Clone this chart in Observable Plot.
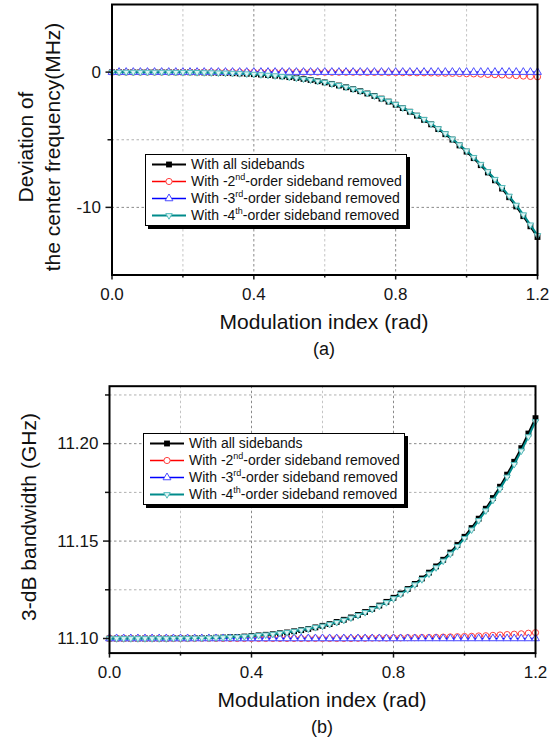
<!DOCTYPE html>
<html><head><meta charset="utf-8">
<script src="https://cdn.jsdelivr.net/npm/d3@7"></script>
<script src="https://cdn.jsdelivr.net/npm/@observablehq/plot@0.6"></script>
<style>
body{margin:0;background:#fff;font-family:"Liberation Sans",Arial,sans-serif;color:#111;}
#wrap{position:relative;width:557px;height:749px;overflow:hidden;}
.chart{position:absolute;left:0;}
.legend{position:absolute;background:#fff;border:1px solid #000;box-shadow:3px 3px 0 #000;font-size:14px;line-height:17px;padding:1px 4px 1px 0;}
.row{display:flex;align-items:center;height:17px;white-space:nowrap;}
.row svg{margin-right:1px;flex:none;}
sup{font-size:9px;line-height:0;vertical-align:6px;}
.ytitle{position:absolute;transform:translate(-50%,-50%) rotate(-90deg);white-space:nowrap;font-size:21px;text-align:center;line-height:27px;}
.xtitle{position:absolute;transform:translate(-50%,-50%);white-space:nowrap;font-size:21px;}
.cap{position:absolute;transform:translate(-50%,-50%);font-size:18px;}
</style></head>
<body>
<div id="wrap"></div>
<script>
// ---------------- data ----------------
const xs = [0,0.02,0.04,0.06,0.08,0.10,0.12,0.14,0.16,0.18,0.20,0.22,0.24,0.26,0.28,0.30,0.32,0.34,0.36,0.38,0.40,0.42,0.44,0.46,0.48,0.50,0.52,0.54,0.56,0.58,0.60,0.62,0.64,0.66,0.68,0.70,0.72,0.74,0.76,0.78,0.80,0.82,0.84,0.86,0.88,0.90,0.92,0.94,0.96,0.98,1.00,1.02,1.04,1.06,1.08,1.10,1.12,1.14,1.16,1.18,1.20];

const seriesNames = ["With all sidebands","With -2nd-order sideband removed","With -3rd-order sideband removed","With -4th-order sideband removed"];

// (a) deviation of the center frequency (MHz)
const devAll = [0,0,0,0,0,0,0,0,0,-0.01,-0.01,-0.01,-0.02,-0.03,-0.04,-0.05,-0.06,-0.08,-0.10,-0.12,-0.15,-0.18,-0.22,-0.26,-0.31,-0.37,-0.43,-0.50,-0.58,-0.67,-0.76,-0.87,-0.99,-1.12,-1.26,-1.41,-1.58,-1.76,-1.96,-2.18,-2.41,-2.66,-2.93,-3.22,-3.53,-3.86,-4.21,-4.59,-4.99,-5.42,-5.88,-6.36,-6.88,-7.42,-8.00,-8.61,-9.25,-9.93,-10.65,-11.40,-12.19];
const devNo2 = [0,0,0,0,0,0,0,0,0,0,0,0,0,0,0,0,0,0,0,0,0,0,0,0,0,0,0,0,0,0,-0.01,-0.01,-0.01,-0.01,-0.01,-0.01,-0.02,-0.02,-0.02,-0.03,-0.03,-0.04,-0.04,-0.05,-0.05,-0.06,-0.07,-0.08,-0.09,-0.10,-0.12,-0.13,-0.15,-0.17,-0.19,-0.21,-0.23,-0.26,-0.29,-0.32,-0.35];
const devNo3 = [0,0,0,0,0,0,0,0,0,0,0,0,0,0,0,0,0,0,0,0,0,0,0,0,0,0,0,0,0,0,0,0,0,0,0,0,0,0,0,0,0,0,0,0,0,0,0,0,0,0,0,0,0,0,0,0,0,0,0,0,0];
const devNo4 = [0,0,0,0,0,0,0,0,0,-0.01,-0.01,-0.01,-0.02,-0.03,-0.04,-0.05,-0.06,-0.08,-0.10,-0.12,-0.15,-0.18,-0.22,-0.26,-0.31,-0.36,-0.43,-0.50,-0.57,-0.66,-0.75,-0.86,-0.98,-1.10,-1.24,-1.40,-1.56,-1.75,-1.94,-2.15,-2.38,-2.63,-2.90,-3.18,-3.49,-3.82,-4.17,-4.54,-4.94,-5.37,-5.82,-6.30,-6.81,-7.35,-7.92,-8.52,-9.16,-9.83,-10.54,-11.29,-12.07];

// (b) 3-dB bandwidth (GHz)
const bwAll = [11.1000,11.1000,11.1000,11.1000,11.1000,11.1000,11.1000,11.1000,11.1000,11.1001,11.1001,11.1001,11.1002,11.1002,11.1003,11.1004,11.1005,11.1007,11.1008,11.1010,11.1013,11.1016,11.1019,11.1022,11.1027,11.1031,11.1037,11.1043,11.1049,11.1057,11.1065,11.1074,11.1085,11.1096,11.1108,11.1121,11.1136,11.1152,11.1169,11.1188,11.1209,11.1231,11.1254,11.1280,11.1308,11.1338,11.1370,11.1404,11.1441,11.1480,11.1522,11.1567,11.1615,11.1666,11.1721,11.1779,11.1841,11.1907,11.1977,11.2052,11.2131];
const bwNo2 = [11.1000,11.1000,11.1000,11.1000,11.1000,11.1000,11.1000,11.1000,11.1000,11.1000,11.1000,11.1000,11.1000,11.1000,11.1000,11.1000,11.1000,11.1000,11.1000,11.1000,11.1000,11.1000,11.1000,11.1000,11.1000,11.1000,11.1000,11.1000,11.1000,11.1000,11.1000,11.1000,11.1000,11.1000,11.1000,11.1001,11.1001,11.1002,11.1002,11.1002,11.1003,11.1003,11.1004,11.1004,11.1005,11.1005,11.1006,11.1007,11.1008,11.1009,11.1010,11.1011,11.1013,11.1014,11.1016,11.1018,11.1020,11.1022,11.1024,11.1027,11.1030];
const bwNo3 = [11.1000,11.1000,11.1000,11.1000,11.1000,11.1000,11.1000,11.1000,11.1000,11.1000,11.1000,11.1000,11.1000,11.1000,11.1000,11.1000,11.1000,11.1000,11.1000,11.1000,11.1000,11.1000,11.1000,11.1000,11.1000,11.1000,11.1000,11.1000,11.1000,11.1000,11.1000,11.1000,11.1000,11.1000,11.1000,11.1000,11.1000,11.1000,11.1000,11.1000,11.1000,11.1000,11.1000,11.1000,11.1000,11.1000,11.1000,11.1000,11.1000,11.1000,11.1000,11.1000,11.1000,11.1000,11.1000,11.1000,11.1000,11.1000,11.1000,11.1000,11.1000];
const bwNo4 = [11.1000,11.1000,11.1000,11.1000,11.1000,11.1000,11.1000,11.1000,11.1000,11.1001,11.1001,11.1001,11.1002,11.1002,11.1003,11.1004,11.1005,11.1007,11.1008,11.1010,11.1013,11.1016,11.1019,11.1022,11.1027,11.1031,11.1037,11.1043,11.1049,11.1057,11.1064,11.1073,11.1083,11.1094,11.1106,11.1119,11.1134,11.1150,11.1167,11.1185,11.1205,11.1227,11.1251,11.1276,11.1303,11.1332,11.1364,11.1398,11.1434,11.1473,11.1514,11.1558,11.1606,11.1656,11.1710,11.1768,11.1829,11.1894,11.1963,11.2036,11.2114];

// ticks
const xMajor = [0, 0.4, 0.8, 1.2];
const xMajorLabels = ["0.0", "0.4", "0.8", "1.2"];
const xMinor = [0.2, 0.6, 1.0];
const aYMajor = [0, -10];
const aYMajorLabels = ["0", "-10"];
const aYMinor = [-5];
const bYMajor = [11.10, 11.15, 11.20];
const bYMajorLabels = ["11.10", "11.15", "11.20"];
const bYMinor = [11.125, 11.175, 11.225];

// ---------------- helpers ----------------
const triDown = {draw(ctx, size){ const k = Math.sqrt(size/(3*Math.sqrt(3))); ctx.moveTo(0, 2*k); ctx.lineTo(Math.sqrt(3)*k, -k); ctx.lineTo(-Math.sqrt(3)*k, -k); ctx.closePath(); }};
const rows = (ys) => xs.map((x, i) => ({x, y: ys[i]}));
const styles = [
  {stroke:"#000000", lw:2.2, symbol:"square", r:3.3, fill:"#000000", mstroke:"none"},
  {stroke:"#ff0000", lw:1.5, symbol:"circle", r:3.1, fill:"#ffffff", mstroke:"#ff4040"},
  {stroke:"#0000ff", lw:1.5, symbol:"triangle", r:2.9, fill:"#ffffff", mstroke:"#4a4aff"},
  {stroke:"#008b8b", lw:2, symbol:triDown, r:2.4, fill:"#dff4f4", mstroke:"#55bcbc"}
];
const labelFmt = (ticks, labels) => d => { const i = ticks.findIndex(t => Math.abs(t - d) < 1e-9); return i >= 0 ? labels[i] : ""; };

function makeChart(opts, series, yMajor, yMajorLabels, yMinor) {
  const marks = [
    Plot.gridX({ticks: xMinor, stroke:"#c4c4c4", strokeOpacity:1, strokeDasharray:"2.5,2.5"}),
    Plot.gridX({ticks: xMajor.slice(1,3), stroke:"#8a8a8a", strokeOpacity:1, strokeDasharray:"2.5,2.5"}),
    Plot.gridY({ticks: yMinor, stroke:"#b0b0b0", strokeOpacity:1, strokeDasharray:"2.5,2.5"}),
    Plot.gridY({ticks: yMajor, stroke:"#8a8a8a", strokeOpacity:1, strokeDasharray:"2.5,2.5"}),
  ];
  series.forEach((ys, k) => {
    const s = styles[k];
    const d = rows(ys);
    marks.push(Plot.line(d, {x:"x", y:"y", stroke:s.stroke, strokeWidth:s.lw}));
    marks.push(Plot.dot(d, {x:"x", y:"y", symbol:s.symbol, r:s.r, fill:s.fill, stroke:s.mstroke, strokeWidth:1}));
  });
  marks.push(
    Plot.axisX({ticks: xMajor, tickFormat: labelFmt(xMajor, xMajorLabels), tickSize:5, tickPadding:8, fontSize:17, label:null, strokeWidth:1.5}),
    Plot.axisX({ticks: xMinor, tickFormat: () => "", tickSize:3, label:null, strokeWidth:1.5}),
    Plot.axisY({ticks: yMajor, tickFormat: labelFmt(yMajor, yMajorLabels), tickSize:6, tickPadding:5, fontSize:17, label:null, strokeWidth:1.5}),
    Plot.axisY({ticks: yMinor, tickFormat: () => "", tickSize:4, label:null, strokeWidth:1.5}),
    Plot.frame({stroke:"#000", strokeWidth:2})
  );
  return Plot.plot({
    ...opts,
    width: 557,
    x: {domain:[0, 1.2], label:null},
    style: {fontFamily:"Liberation Sans, Arial, sans-serif", fontSize:"17px", color:"#151515", background:"transparent"},
    marks
  });
}

// ---------------- build ----------------
const wrap = document.getElementById("wrap");

const chartA = makeChart({height:310, marginTop:4, marginBottom:35.5, marginLeft:111.5, marginRight:20, y:{domain:[-15, 5], label:null}},
  [devAll, devNo2, devNo3, devNo4], aYMajor, aYMajorLabels, aYMinor);
chartA.classList.add("chart"); chartA.style.top = "0px";
wrap.appendChild(chartA);

const chartB = makeChart({height:310, marginTop:5.7, marginBottom:37.4, marginLeft:109, marginRight:22, y:{domain:[11.0925, 11.2295], label:null}},
  [bwAll, bwNo2, bwNo3, bwNo4], bYMajor, bYMajorLabels, bYMinor);
chartB.classList.add("chart"); chartB.style.top = "380px";
wrap.appendChild(chartB);

function addDiv(cls, html, left, top) {
  const d = document.createElement("div");
  d.className = cls; d.innerHTML = html;
  d.style.left = left + "px"; d.style.top = top + "px";
  wrap.appendChild(d); return d;
}
addDiv("ytitle", "Deviation of<br>the center frequency(MHz)", 39, 147);
addDiv("xtitle", "Modulation index (rad)", 324, 322);
addDiv("cap", "(a)", 324, 349);
addDiv("ytitle", "3-dB bandwidth (GHz)", 28, 517);
addDiv("xtitle", "Modulation index (rad)", 322, 700);
addDiv("cap", "(b)", 322, 727);

const legendHtml = [
  "With all sidebands",
  "With -2<sup>nd</sup>-order sideband removed",
  "With -3<sup>rd</sup>-order sideband removed",
  "With -4<sup>th</sup>-order sideband removed"
];
function swatch(k) {
  const s = styles[k];
  const sym = typeof s.symbol === "string" ? {square:d3.symbolSquare, circle:d3.symbolCircle, triangle:d3.symbolTriangle}[s.symbol] : s.symbol;
  const path = d3.symbol(sym, s.r * s.r * Math.PI)();
  return `<svg width="44" height="17"><line x1="6" x2="40" y1="8.5" y2="8.5" stroke="${s.stroke}" stroke-width="${s.lw}"/>` +
         `<path d="${path}" transform="translate(23,8.5)" fill="${s.fill}" stroke="${s.mstroke}" stroke-width="1"/></svg>`;
}
function legend(left, top) {
  const box = document.createElement("div");
  box.className = "legend";
  box.style.left = left + "px"; box.style.top = top + "px";
  box.innerHTML = legendHtml.map((t, k) => `<div class="row">${swatch(k)}<span>${t}</span></div>`).join("");
  wrap.appendChild(box);
}
legend(145, 154);
legend(143, 433);
</script>
</body></html>
